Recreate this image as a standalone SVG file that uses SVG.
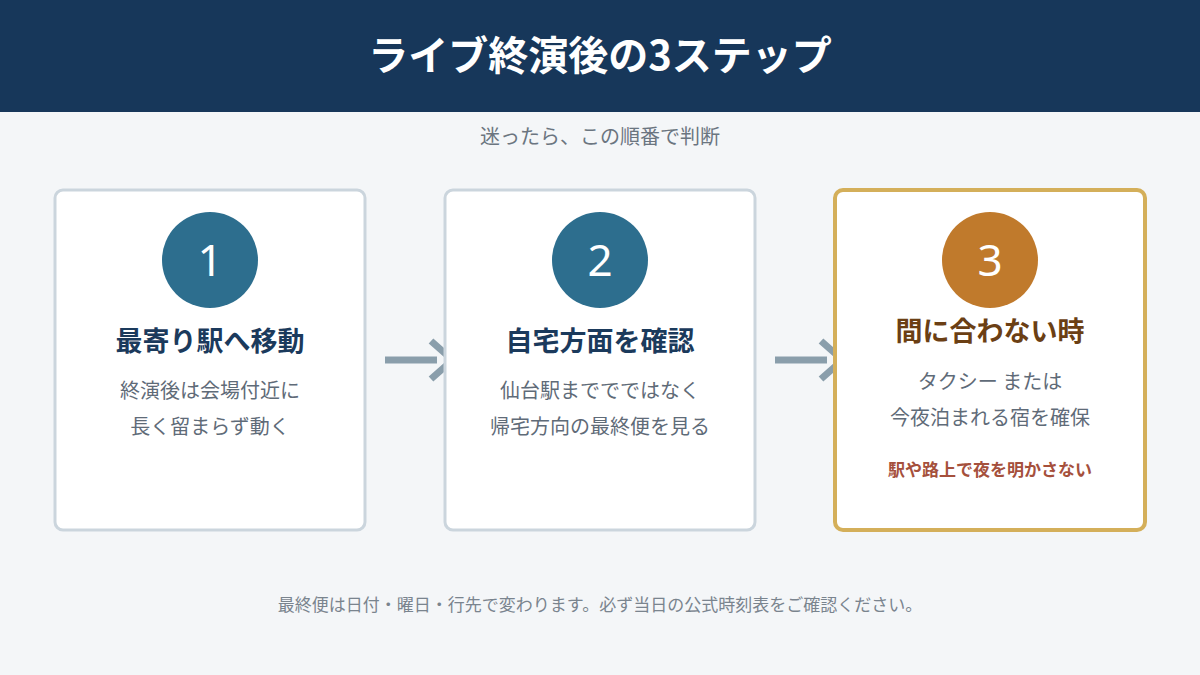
<svg xmlns="http://www.w3.org/2000/svg" width="1200" height="675" viewBox="0 0 1200 675">
<style>
text{font-family:"Noto Sans CJK JP","Noto Sans",sans-serif;text-anchor:middle}
.card{fill:#fff;stroke:#CBD5DD;stroke-width:3}
.num{fill:#fff;font-size:44px;font-family:"Noto Sans","Noto Sans CJK JP",sans-serif}
.title{font-size:27px;font-weight:bold;fill:#1B3A5C}
.body{font-size:20px;fill:#5F6B78}
.arr{stroke:#8A9EAB;stroke-width:7;fill:none}
</style>
<rect width="1200" height="675" fill="#F4F6F8"/>
<rect width="1200" height="112" fill="#17375A"/>
<text x="600" y="70" font-size="40" font-weight="bold" fill="#fff">ライブ終演後の3ステップ</text>
<text x="600" y="144" font-size="20" fill="#6B7580">迷ったら、この順番で判断</text>
<g id="connectors">
<path class="arr" d="M385 360H437M431 341L448 356M431 379L448 364"/>
<path class="arr" d="M775 360H827M821 341L838 356M821 379L838 364"/>
</g>
<g id="step1">
<rect class="card" x="55" y="190" width="310" height="340" rx="8"/>
<circle cx="210" cy="260" r="48" fill="#2D6E8E"/>
<text class="num" x="210" y="276">1</text>
<text class="title" x="210" y="351">最寄り駅へ移動</text>
<text class="body" x="210" y="398">終演後は会場付近に</text>
<text class="body" x="210" y="434">長く留まらず動く</text>
</g>
<g id="step2">
<rect class="card" x="445" y="190" width="310" height="340" rx="8"/>
<circle cx="600" cy="260" r="48" fill="#2D6E8E"/>
<text class="num" x="600" y="276">2</text>
<text class="title" x="600" y="351">自宅方面を確認</text>
<text class="body" x="600" y="398">仙台駅まででではなく</text>
<text class="body" x="600" y="434">帰宅方向の最終便を見る</text>
</g>
<g id="step3">
<rect x="835" y="190" width="310" height="340" rx="8" fill="#fff" stroke="#D4AF5A" stroke-width="4"/>
<circle cx="990" cy="260" r="48" fill="#C07A2C"/>
<text class="num" x="990" y="276">3</text>
<text class="title" x="990" y="341" fill="#6B3F14" style="fill:#6B3F14">間に合わない時</text>
<text class="body" x="990" y="389">タクシー または</text>
<text class="body" x="990" y="425">今夜泊まれる宿を確保</text>
<text x="990" y="476" font-size="17" font-weight="bold" fill="#A5503C">駅や路上で夜を明かさない</text>
</g>
<text x="600" y="611" font-size="17" fill="#7A848E">最終便は日付・曜日・行先で変わります。必ず当日の公式時刻表をご確認ください。</text>
</svg>
